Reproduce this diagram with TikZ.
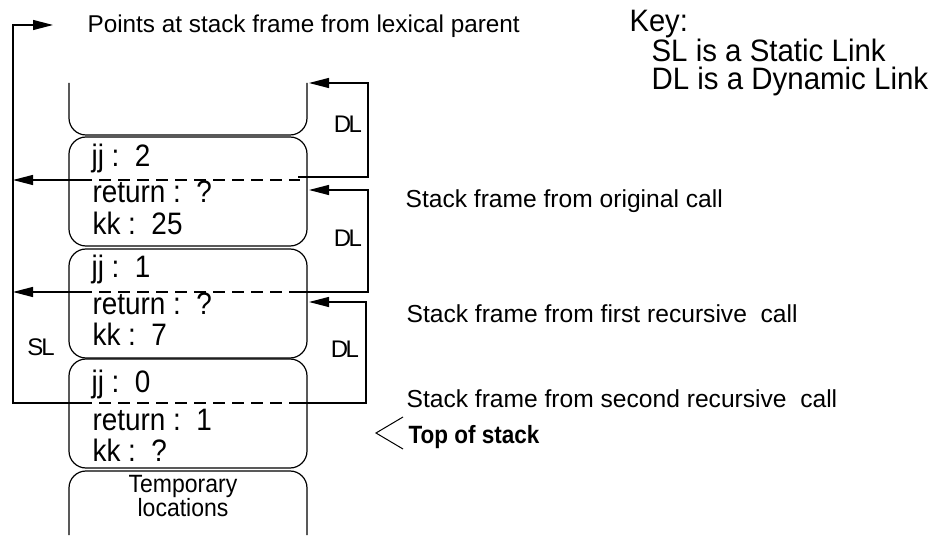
\documentclass[tikz,border=0pt]{standalone}
\usepackage{graphicx}
\usepackage{fontspec}
\setmainfont{Liberation Sans}
\usetikzlibrary{arrows.meta}
\newcommand{\narrow}[2][0.9]{\scalebox{#1}[1]{#2}}
\begin{document}
\begin{tikzpicture}[x=1pt,y=-1pt, line width=1.2pt,
  frame/.style={draw, rounded corners=17pt, minimum width=238pt, minimum height=109pt, inner sep=0pt},
  cell/.style={anchor=base west, inner sep=0pt, font=\fontsize{31}{33}\selectfont},
  lbl/.style={anchor=base west, inner sep=0pt, font=\fontsize{24.6}{26}\selectfont},
  link/.style={inner sep=0pt, font=\fontsize{24}{25}\selectfont},
  tip/.style={-{Triangle[length=20pt,width=10pt]}},
  dashline/.style={dash pattern=on 12pt off 7pt}]
\useasboundingbox (0,0) rectangle (935,537);

% partial frame at top (open at top)
\draw[rounded corners=17pt] (69,83) -- (69,135) -- (307,135) -- (307,83);
% frames
\node[frame] (f1) at (188,191.5) {};
\node[frame] (f2) at (188,303.5) {};
\node[frame] (f3) at (188,413.5) {};
% temporary locations (open at bottom)
\draw[rounded corners=17pt] (69,535) -- (69,471) -- (307,471) -- (307,535);
\node[inner sep=0pt, align=center, font=\fontsize{25}{21}\selectfont] (temp) at (183,496) {\narrow[0.92]{Temporary}\\\narrow[0.92]{locations}};

% frame contents
\node[cell] (jj1) at (91,167) {\narrow{jj :\ \ 2}};
\node[cell] (rt1) at (92,203) {\narrow{return :\ \ ?}};
\node[cell] (kk1) at (92,235) {\narrow{kk :\ \ 25}};
\node[cell] (jj2) at (91,278) {\narrow{jj :\ \ 1}};
\node[cell] (rt2) at (92,315) {\narrow{return :\ \ ?}};
\node[cell] (kk2) at (92,346) {\narrow{kk :\ \ 7}};
\node[cell] (jj3) at (91,393) {\narrow{jj :\ \ 0}};
\node[cell] (rt3) at (92,431) {\narrow{return :\ \ 1}};
\node[cell] (kk3) at (92,461) {\narrow{kk :\ \ ?}};

% coordinates for links
\coordinate (s1a) at (80,180);  \coordinate (s1b) at (300,180);  \coordinate (s1t) at (13,180);
\coordinate (s2a) at (80,292);  \coordinate (s2b) at (300,292);  \coordinate (s2t) at (13,292);
\coordinate (s3a) at (80,403);  \coordinate (s3b) at (300,403);
\coordinate (slc) at (13,403);  \coordinate (slu) at (13,25);   \coordinate (slt) at (53,25);
\coordinate (d1a) at (298,177); \coordinate (d1r) at (368,177); \coordinate (d1u) at (368,83);  \coordinate (d1t) at (309,83);
\coordinate (d2r) at (368,292); \coordinate (d2u) at (368,190); \coordinate (d2t) at (309,190);
\coordinate (d3r) at (366,403); \coordinate (d3u) at (366,302); \coordinate (d3t) at (309,302);

% dashed parts inside frames
\draw[dashline] (s1a) -- (s1b);
\draw[dashline] (s2a) -- (s2b);
\draw[dashline] (s3a) -- (s3b);
% static links
\draw[tip] (s1a) -- (s1t);
\draw[tip] (s2a) -- (s2t);
\draw[tip] (s3a) -- (slc) -- (slu) -- (slt);
% dynamic links
\draw[tip] (d1a) -- (d1r) -- (d1u) -- (d1t);
\draw[tip] (s2b) -- (d2r) -- (d2u) -- (d2t);
\draw[tip] (s3b) -- (d3r) -- (d3u) -- (d3t);

% link labels
\node[link] (dl1) at (348,124) {D\kern-2.5pt L};
\node[link] (dl2) at (348,238) {D\kern-2.5pt L};
\node[link] (dl3) at (345,349) {D\kern-2.5pt L};
\node[link] (sl)  at (41,347) {S\kern-2pt L};

% texts
\node[lbl, font=\fontsize{24.3}{26}\selectfont] (pts) at (87,33) {Points at stack frame from lexical parent};
\node[anchor=north west, inner sep=0pt, align=left, font=\fontsize{31}{27.5}\selectfont] (key) at (629,9.8)
  {\narrow[0.94]{Key:}\\\hspace*{22pt}\narrow[0.95]{SL is a Static Link}\\\hspace*{22pt}\narrow[0.95]{DL is a Dynamic Link}};
\node[lbl] (sfo) at (405,208) {Stack frame from original call};
\node[lbl] (sff) at (406,323) {Stack frame from first recursive\ \ call};
\node[lbl] (sfs) at (406,407) {Stack frame from second recursive\ \ call};
\node[lbl, font=\bfseries\fontsize{25}{26}\selectfont] (tos) at (408,443) {\narrow{Top of stack}};
\coordinate (ta) at (403,417); \coordinate (tb) at (376,433); \coordinate (tc) at (403,449);
\draw[line width=1pt] (ta) -- (tb) -- (tc);
\end{tikzpicture}
\end{document}
